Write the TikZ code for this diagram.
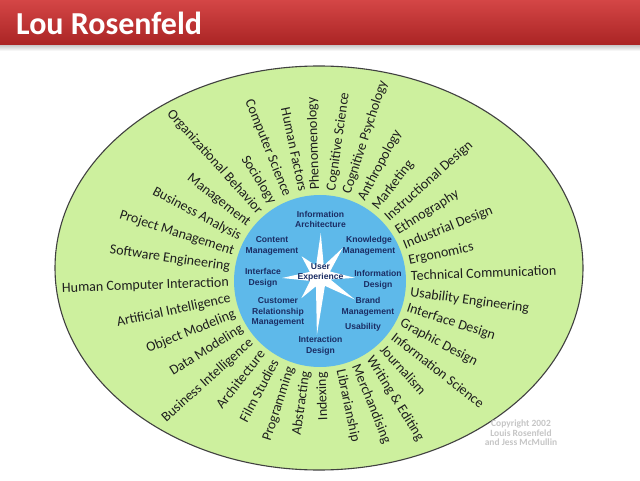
\documentclass[tikz,border=0pt]{standalone}
\usepackage{fontspec}
\setmainfont{Carlito}
\newfontfamily\innerfont{Liberation Sans}
\definecolor{leaf}{RGB}{205,240,158}
\definecolor{sky}{RGB}{94,185,234}
\definecolor{navy}{RGB}{27,45,100}
\definecolor{redtop}{RGB}{212,70,70}
\definecolor{redbot}{RGB}{170,36,36}
\definecolor{wordcol}{RGB}{30,30,30}
\definecolor{copycol}{RGB}{198,198,198}
\begin{document}
\begin{tikzpicture}[x=1pt,y=1pt,
  word/.style={font=\fontsize{14}{14}\selectfont, text=wordcol, inner sep=0pt},
  outword/.style={word, anchor=mid west},
  inword/.style={word, anchor=mid east},
  hub/.style={font=\innerfont\bfseries\fontsize{8.6}{10.8}\selectfont, text=navy, align=center, inner sep=0pt}]
\useasboundingbox (0,0) rectangle (640,480);
\fill[white] (0,0) rectangle (640,480);
% header
\shade[top color=black!22, bottom color=white] (0,429) rectangle (640,435);
\shade[top color=redtop, bottom color=redbot] (0,435) rectangle (640,480);
\node[anchor=base west, text=white, font=\bfseries\fontsize{32}{32}\selectfont, inner sep=0pt] (title) at (16,445) {Lou Rosenfeld};
% outer ellipse and inner circle
\draw[fill=leaf, draw=black!75, line width=1.1pt] (319,212) ellipse [x radius=264, y radius=202];
\fill[sky] (320,199) circle [radius=86];
% star
\fill[white, shift={(320,204)}]
  (89:43) -- (70:11) -- (51:36) -- (24:11) -- (-3:35) -- (-18.5:11) -- (-34:42) -- (-63.5:11)
  -- (-93:59) -- (-111.5:11) -- (-130:29) -- (-153.5:11) -- (-177:38) -- (-202:11)
  -- (-227:27) -- (-249:11) -- cycle;
% hub labels
\node[hub] (ia) at (320.5,260.5) {Information\\Architecture};
\node[hub] (cm) at (272,234) {Content\\Management};
\node[hub] (km) at (369,234) {Knowledge\\Management};
\node[hub] (ifd) at (263,202) {Interface\\Design};
\node[hub] (ux) at (320.5,207.5) {User\\Experience};
\node[hub] (ind) at (378,200) {Information\\Design};
\node[hub] (crm) at (278,168) {Customer\\Relationship\\Management};
\node[hub] (bm) at (368,173) {Brand\\Management};
\node[hub] (us) at (363,153) {Usability};
\node[hub] (ixd) at (320.5,134) {Interaction\\Design};
% radial words
\begin{scope}[shift={(320,199)}]
\coordinate (c) at (0,0);
\foreach \t [count=\i from 0] in {Technical Communication, Ergonomics, Industrial Design, Ethnography, Instructional Design, Marketing, Anthropology, Cognitive Psychology, Cognitive Science, Phenomenology}{
  \pgfmathsetmacro\ang{2+10*\i}
  \node[outword, rotate=\ang] (w\i) at (\ang:91) {\t};
}
\foreach \t [count=\i from 10] in {Human Factors, Computer Science, Sociology, Organizational Behavior, Management, Business Analysis, Project Management, Software Engineering, Human Computer Interaction, Artificial Intelligence, Object Modeling, Data Modeling, Business Intelligence, Architecture, Film Studies, Programming, Abstracting, Indexing}{
  \pgfmathsetmacro\ang{2+10*\i}
  \pgfmathsetmacro\rot{\ang-180}
  \node[inword, rotate=\rot] (w\i) at (\ang:91) {\t};
}
\foreach \t [count=\i from 28] in {Librarianship, Merchandising, Writing \& Editing, Journalism, Information Science, Graphic Design, Interface Design, Usability Engineering}{
  \pgfmathsetmacro\ang{2+10*\i}
  \node[outword, rotate=\ang] (w\i) at (\ang:91) {\t};
}
\end{scope}
% copyright
\node[font=\bfseries\fontsize{9.5}{9.6}\selectfont, text=copycol, align=center, inner sep=0pt] (copy) at (521,47) {Copyright 2002\\Louis Rosenfeld\\and Jess McMullin};
\end{tikzpicture}
\end{document}
